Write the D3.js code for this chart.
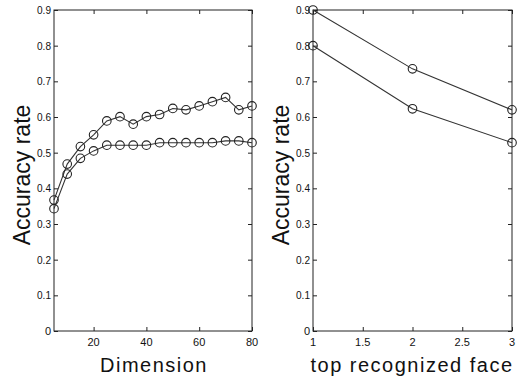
<!DOCTYPE html>
<html>
<head>
<meta charset="utf-8">
<script src="https://cdn.jsdelivr.net/npm/d3@7"></script>
<style>
  body { margin: 0; background: #fff; }
  svg text { font-family: "Liberation Sans", Arial, sans-serif; fill: #111; }
</style>
</head>
<body>
<div id="graph"></div>
<script>
// left panel: accuracy vs dimension
const dims = [5, 10, 15, 20, 25, 30, 35, 40, 45, 50, 55, 60, 65, 70, 75, 80];
const dimUpper = [0.367, 0.468, 0.517, 0.55, 0.589, 0.601, 0.58, 0.601, 0.607, 0.624, 0.62, 0.631, 0.643, 0.655, 0.62, 0.631];
const dimLower = [0.343, 0.44, 0.484, 0.505, 0.521, 0.521, 0.521, 0.521, 0.528, 0.528, 0.528, 0.528, 0.528, 0.533, 0.533, 0.528];

// right panel: accuracy vs top recognized face
const tops = [1, 2, 3];
const topUpper = [0.9, 0.735, 0.62];
const topLower = [0.8, 0.623, 0.528];

const yTicks = [0, 0.1, 0.2, 0.3, 0.4, 0.5, 0.6, 0.7, 0.8, 0.9];
const dimTicks = [20, 40, 60, 80];
const topTicks = [1, 1.5, 2, 2.5, 3];

const width = 521;
const height = 380;
const plotTop = 10;
const plotBottom = 331;

const svg = d3.select('#graph')
  .append('svg')
  .attr('width', width)
  .attr('height', height);

const yScale = d3.scaleLinear().domain([0, 0.9]).range([plotBottom, plotTop]);

const drawPanel = (opts) => {
  const xScale = d3.scaleLinear().domain(opts.domain).range([opts.left, opts.right]);
  const g = svg.append('g');

  // frame
  g.append('rect')
    .attr('x', opts.left)
    .attr('y', plotTop)
    .attr('width', opts.right - opts.left)
    .attr('height', plotBottom - plotTop)
    .attr('fill', 'none')
    .attr('stroke', '#222')
    .attr('stroke-width', 1);

  // inward ticks, all four sides
  const axisFmt = d => d === 0 ? '0' : d3.format('.1f')(d);
  g.append('g')
    .attr('transform', 'translate(' + opts.left + ',0)')
    .call(d3.axisRight(yScale).tickValues(yTicks).tickSize(4).tickFormat(''))
    .call(a => a.select('.domain').remove());
  g.append('g')
    .attr('transform', 'translate(' + opts.right + ',0)')
    .call(d3.axisLeft(yScale).tickValues(yTicks).tickSize(4).tickFormat(''))
    .call(a => a.select('.domain').remove());
  g.append('g')
    .attr('transform', 'translate(0,' + plotBottom + ')')
    .call(d3.axisTop(xScale).tickValues(opts.ticks).tickSize(4).tickFormat(''))
    .call(a => a.select('.domain').remove());
  g.append('g')
    .attr('transform', 'translate(0,' + plotTop + ')')
    .call(d3.axisBottom(xScale).tickValues(opts.ticks).tickSize(4).tickFormat(''))
    .call(a => a.select('.domain').remove());
  g.selectAll('.tick line').attr('stroke', '#222');

  // y tick labels
  g.selectAll('.ylab')
    .data(yTicks)
    .enter()
    .append('text')
    .attr('x', opts.left - 3)
    .attr('y', d => yScale(d) + 4)
    .attr('text-anchor', 'end')
    .attr('font-size', 11)
    .attr('textLength', d => d === 0 ? null : 14)
    .attr('lengthAdjust', 'spacingAndGlyphs')
    .text(axisFmt);

  // x tick labels
  g.selectAll('.xlab')
    .data(opts.tickLabels)
    .enter()
    .append('text')
    .attr('x', d => xScale(d))
    .attr('y', plotBottom + 15)
    .attr('text-anchor', 'middle')
    .attr('font-size', 11)
    .text(d => d);

  // axis titles
  g.append('text')
    .attr('transform', 'translate(' + opts.yTitleX + ',' + 175 + ') rotate(-90)')
    .attr('text-anchor', 'middle')
    .attr('font-size', 23)
    .text('Accuracy rate');
  g.append('text')
    .attr('x', opts.xTitleX)
    .attr('y', 372)
    .attr('text-anchor', 'middle')
    .attr('font-size', 20)
    .attr('letter-spacing', 1.5)
    .text(opts.xTitle);

  // series
  opts.series.forEach(vals => {
    const pts = opts.xs.map((x, i) => ({ x: x, y: vals[i] }));
    g.append('path')
      .datum(pts)
      .attr('fill', 'none')
      .attr('stroke', '#333')
      .attr('stroke-width', 1.1)
      .attr('d', d3.line()
        .x(d => xScale(d.x))
        .y(d => yScale(d.y)));
    g.append('g')
      .selectAll('circle')
      .data(pts)
      .enter()
      .append('circle')
      .attr('cx', d => xScale(d.x))
      .attr('cy', d => yScale(d.y))
      .attr('r', 4.3)
      .attr('fill', 'none')
      .attr('stroke', '#222')
      .attr('stroke-width', 1.1);
  });
};

drawPanel({
  left: 54, right: 252, domain: [5, 80],
  ticks: dimTicks, tickLabels: dimTicks,
  xs: dims, series: [dimUpper, dimLower],
  yTitleX: 30, xTitle: 'Dimension', xTitleX: 154
});

drawPanel({
  left: 313, right: 512, domain: [1, 3],
  ticks: topTicks, tickLabels: topTicks,
  xs: tops, series: [topUpper, topLower],
  yTitleX: 289, xTitle: 'top recognized face', xTitleX: 412
});
</script>
</body>
</html>
